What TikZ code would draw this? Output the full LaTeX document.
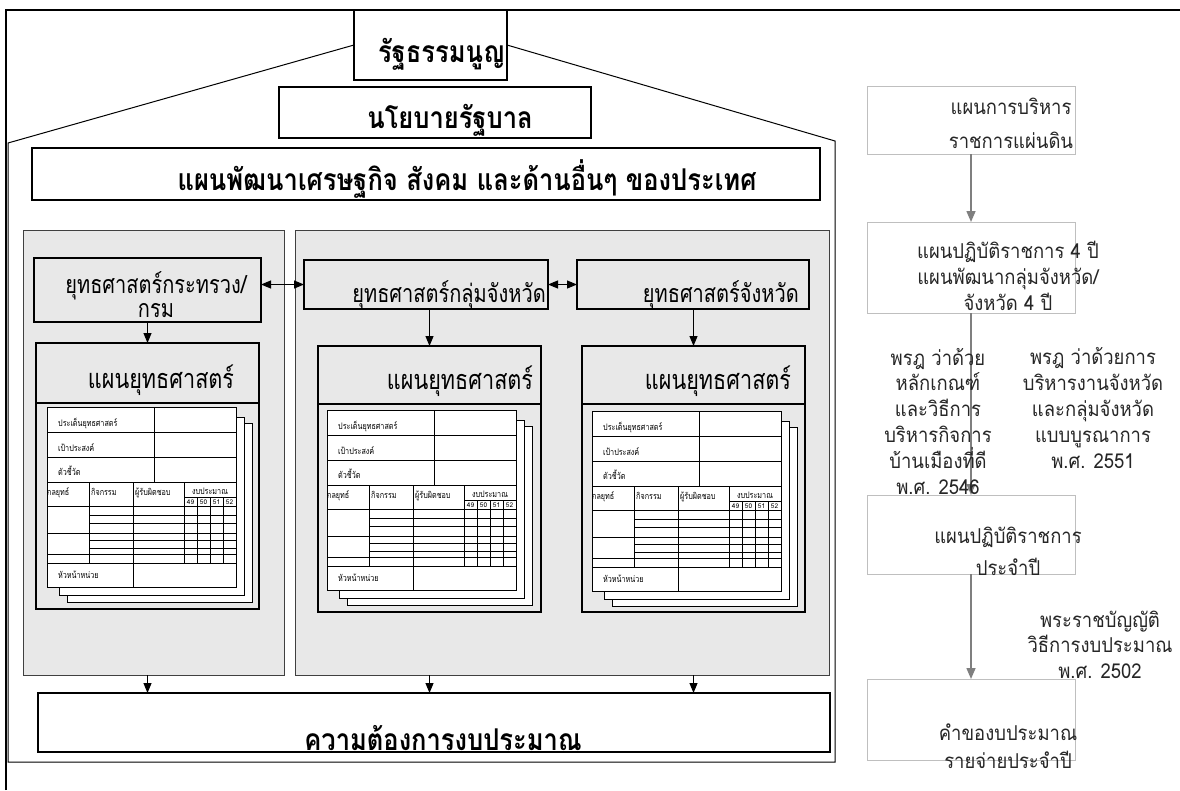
\documentclass[tikz,border=0pt]{standalone}
\usepackage{fontspec}
\setmainfont[Script=Thai]{Loma}
\newfontfamily\thaicond[Script=Thai,FakeStretch=0.8]{Loma}
\newfontfamily\thaihead[Script=Thai,FakeStretch=0.85]{Loma}
\newfontfamily\thairight[Script=Thai,FakeStretch=0.9]{Loma}
\usetikzlibrary{calc,arrows.meta}

\definecolor{panelgrey}{HTML}{E8E8E8}
\definecolor{linegrey}{HTML}{BFBFBF}
\definecolor{arrowgrey}{HTML}{7F7F7F}

% one stacked form (three sheets) inside a plan box
\newcommand{\planform}[2]{%
  \begin{scope}[shift={#1}]
    \draw[page] (20,16) rectangle (205,195);
    \draw[page] (12,10) rectangle (197,188);
    \draw[page] (0,0) rectangle (189,180);
    \draw[formline] (0,25) -- (189,25) (0,50) -- (189,50) (0,75) -- (189,75) (107,0) -- (107,75);
    \draw[formline] (42,75) -- (42,156) (86,75) -- (86,180) (137,75) -- (137,156)
      (137,90) -- (189,90) (150,90) -- (150,156) (163,90) -- (163,156) (176,90) -- (176,156)
      (0,99) -- (189,99) (0,126) -- (189,126) (0,147) -- (189,147) (0,156) -- (189,156);
    \foreach \y in {108,116,133,141}
      \draw[formline] (42,\y) -- (189,\y);
    \node[formtext, anchor=base west] (#2-issue) at (11,19) {ประเด็นยุทธศาสตร์};
    \node[formtext, anchor=base west] (#2-goal) at (11,44) {เป้าประสงค์};
    \node[formtext, anchor=base west] (#2-kpi) at (11,68) {ตัวชี้วัด};
    \node[formtext, anchor=base west] (#2-strat) at (0,88) {กลยุทธ์};
    \node[formtext, anchor=base west] (#2-act) at (44,88) {กิจกรรม};
    \node[formtext, anchor=base west] (#2-resp) at (88,88) {ผู้รับผิดชอบ};
    \node[formtext, anchor=base] (#2-money) at (163,87) {งบประมาณ};
    \foreach \n/\x in {49/143.5,50/156.5,51/169.5,52/182.5}
      \node[formnum, anchor=base] (#2-y\n) at (\x,97) {\n};
    \node[formtext, anchor=base west] (#2-head) at (11,171) {หัวหน้าหน่วย};
  \end{scope}}

\begin{document}
\begin{tikzpicture}[x=1pt,y=-1pt,
  box/.style={draw, line width=1.2pt, inner sep=0pt, outer sep=0pt},
  greybox/.style={box, fill=panelgrey},
  panel/.style={draw=black!75, line width=0.9pt, fill=panelgrey, inner sep=0pt, outer sep=0pt},
  rbox/.style={draw=linegrey, line width=1pt, inner sep=0pt, outer sep=0pt, minimum width=208pt},
  headtext/.style={font=\thaihead\bfseries\fontsize{30}{32}\selectfont, inner sep=0pt},
  boxtext/.style={font=\thaicond\fontsize{25}{24}\selectfont, inner sep=0pt, align=center},
  plantext/.style={font=\thaicond\fontsize{27}{30}\selectfont, inner sep=0pt},
  rtext/.style={text=black!85, inner sep=0pt, align=center},
  formtext/.style={font=\thaicond\fontsize{9}{9}\selectfont, inner sep=0pt},
  formnum/.style={font=\fontsize{6.5}{6.5}\selectfont, inner sep=0pt},
  page/.style={draw, line width=0.9pt, fill=white},
  formline/.style={line width=0.8pt},
  arrow/.style={-{Triangle[length=10pt,width=8pt]}, line width=1pt},
  darrow/.style={{Triangle[length=10pt,width=8pt]}-{Triangle[length=10pt,width=8pt]}, line width=1pt},
  rarrow/.style={-{Triangle[length=11pt,width=9pt]}, draw=arrowgrey, fill=arrowgrey, line width=1.5pt}
]
  \useasboundingbox (0,0) rectangle (1180,790);
  \draw[line width=2pt] (6,790) -- (6,10) -- (1180,10);

  % house
  \node[box, minimum width=153pt, minimum height=70pt] (const) at (430.5,45) {};
  \draw[line width=1pt] (const.west) -- (8,143) -- (8,762) -- (835,762) -- (835,141) -- (const.east);
  \node[headtext, anchor=base east] (constT) at (505,62) {รัฐธรรมนูญ};
  \node[box, minimum width=312pt, minimum height=51pt] (policy) at (435,112.5) {};
  \node[headtext, anchor=base] (policyT) at (450,128) {นโยบายรัฐบาล};
  \node[box, minimum width=788pt, minimum height=52pt] (natplan) at (426,174) {};
  \node[headtext, anchor=base] (natplanT) at (467,190) {แผนพัฒนาเศรษฐกิจ สังคม และด้านอื่นๆ ของประเทศ};

  \node[panel, minimum width=261pt, minimum height=445pt] (lpanel) at (153.5,452.5) {};
  \node[panel, minimum width=534pt, minimum height=445pt] (rpanel) at (562,452.5) {};

  \node[greybox, minimum width=227pt, minimum height=64pt] (ministry) at (147.5,290) {};
  \node[boxtext, anchor=base] (ministryT) at (156,317) {ยุทธศาสตร์กระทรวง/\\กรม};
  \node[greybox, minimum width=244pt, minimum height=49pt] (cluster) at (426,284.5) {};
  \node[boxtext, anchor=base east] (clusterT) at (546,302) {ยุทธศาสตร์กลุ่มจังหวัด};
  \node[greybox, minimum width=232pt, minimum height=49pt] (province) at (693,284.5) {};
  \node[boxtext, anchor=base east] (provinceT) at (799,302) {ยุทธศาสตร์จังหวัด};

  \node[greybox, minimum width=223pt, minimum height=266pt] (planA) at (147.5,476) {};
  \node[greybox, minimum width=223pt, minimum height=266pt] (planB) at (429.5,479) {};
  \node[greybox, minimum width=223pt, minimum height=266pt] (planC) at (693.5,479) {};
  \draw[line width=1.2pt] ($(planA.north west)+(0,60)$) -- ($(planA.north east)+(0,60)$);
  \draw[line width=1.2pt] ($(planB.north west)+(0,58)$) -- ($(planB.north east)+(0,58)$);
  \draw[line width=1.2pt] ($(planC.north west)+(0,58)$) -- ($(planC.north east)+(0,58)$);
  \node[plantext, anchor=base] (planAT) at (161,388) {แผนยุทธศาสตร์};
  \node[plantext, anchor=base] (planBT) at (460,389) {แผนยุทธศาสตร์};
  \node[plantext, anchor=base] (planCT) at (718,389) {แผนยุทธศาสตร์};
  \planform{(47,407)}{fA}
  \planform{(327,410)}{fB}
  \planform{(592,411)}{fC}

  \node[box, minimum width=792pt, minimum height=59pt] (budget) at (434,722.5) {};
  \node[headtext, anchor=base] (budgetT) at (443,750) {ความต้องการงบประมาณ};

  \draw[darrow] (cluster.west -| ministry.east) -- (cluster.west);
  \draw[darrow] (cluster.east) -- (province.west);
  \draw[arrow] (ministry.south) -- (ministry.south |- planA.north);
  \draw[arrow] (planB.north |- cluster.south) -- (planB.north);
  \draw[arrow] (planC.north |- province.south) -- (planC.north);
  \draw[arrow] (planA.south |- lpanel.south) -- (planA.south |- budget.north);
  \draw[arrow] (planB.south |- rpanel.south) -- (planB.south |- budget.north);
  \draw[arrow] (planC.south |- rpanel.south) -- (planC.south |- budget.north);

  % right column
  \node[rbox, minimum height=68pt] (r1) at (971,120) {};
  \node[rbox, minimum height=91pt] (r2) at (971,267.5) {};
  \node[rbox, minimum height=79pt] (r3) at (971,534.5) {};
  \node[rbox, minimum height=81pt] (r4) at (971,719.5) {};
  \draw[rarrow] (r1.south) -- (r2.north);
  \draw[rarrow] (r2.south) -- (r3.north);
  \draw[rarrow] (r3.south) -- (r4.north);
  \node[rtext, anchor=base, font=\thairight\fontsize{20.5}{34}\selectfont] (r1T) at (1011,148) {แผนการบริหาร\\ราชการแผ่นดิน};
  \node[rtext, anchor=base, font=\thairight\fontsize{20.5}{26}\selectfont] (r2T) at (1008,310) {แผนปฏิบัติราชการ 4 ปี\\แผนพัฒนากลุ่มจังหวัด/\\จังหวัด 4 ปี};
  \node[rtext, anchor=base, font=\thairight\fontsize{20.5}{25.8}\selectfont] (law1) at (938,494) {พรฎ ว่าด้วย\\หลักเกณฑ์\\และวิธีการ\\บริหารกิจการ\\บ้านเมืองที่ดี\\พ.ศ. 2546};
  \node[rtext, anchor=base, font=\thairight\fontsize{20.5}{25.8}\selectfont] (law2) at (1093,468) {พรฎ ว่าด้วยการ\\บริหารงานจังหวัด\\และกลุ่มจังหวัด\\แบบบูรณาการ\\พ.ศ. 2551};
  \node[rtext, anchor=base, font=\thairight\fontsize{20.5}{32}\selectfont] (r3T) at (1008,575) {แผนปฏิบัติราชการ\\ประจำปี};
  \node[rtext, anchor=base, font=\thairight\fontsize{20.5}{25.5}\selectfont] (law3) at (1100,678) {พระราชบัญญัติ\\วิธีการงบประมาณ\\พ.ศ. 2502};
  \node[rtext, anchor=base, font=\thairight\fontsize{20.5}{28}\selectfont] (r4T) at (1008,768) {คำของบประมาณ\\รายจ่ายประจำปี};
\end{tikzpicture}
\end{document}
